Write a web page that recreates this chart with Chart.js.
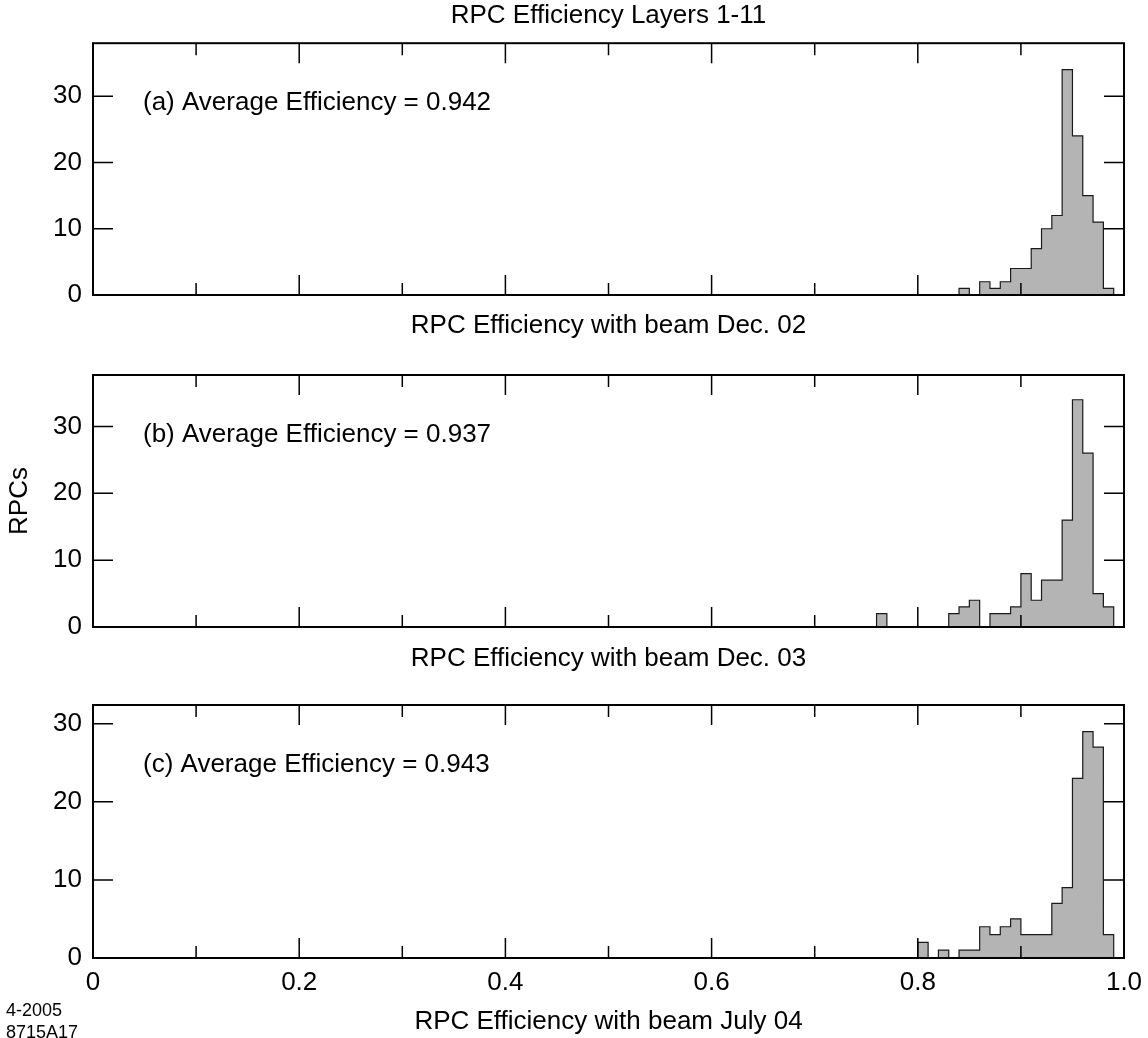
<!DOCTYPE html>
<html>
<head>
<meta charset="utf-8">
<script src="https://cdn.jsdelivr.net/npm/chart.js@4.4.0/dist/chart.umd.min.js"></script>
<style>
html,body{margin:0;padding:0;background:#fff;}
#wrap{position:relative;width:1148px;height:1038px;overflow:hidden;background:#fff;}
#wrap canvas{position:absolute;left:0;top:0;}
#note{position:absolute;left:6px;top:999px;font-family:"Liberation Sans",Arial,sans-serif;font-size:18px;line-height:22px;color:#000;}
</style>
</head>
<body>
<div id="wrap">
  <canvas id="cA" width="1148" height="1038"></canvas>
  <canvas id="cB" width="1148" height="1038"></canvas>
  <canvas id="cC" width="1148" height="1038"></canvas>
  <div id="note">4-2005<br>8715A17</div>
</div>
<script>
// ---- data ----
const binLow = [0.76,0.77,0.78,0.79,0.80,0.81,0.82,0.83,0.84,0.85,0.86,0.87,0.88,0.89,0.90,0.91,0.92,0.93,0.94,0.95,0.96,0.97,0.98];
const binWidth = 0.01;
const countsA = [0,0,0,0,0,0,0,0,1,0,2,1,2,4,4,7,10,12,34,24,15,11,1];
const countsB = [2,0,0,0,0,0,0,2,3,4,0,2,2,3,8,4,7,7,16,34,26,5,3];
const countsC = [0,0,0,0,2,0,1,0,1,1,4,3,4,5,3,3,3,7,9,23,29,27,3];
const xTickLabels = ['0','0.2','0.4','0.6','0.8','1.0'];
const panelLabels = ['(a) Average Efficiency = 0.942','(b) Average Efficiency = 0.937','(c) Average Efficiency = 0.943'];
const xTitles = ['RPC Efficiency with beam Dec. 02','RPC Efficiency with beam Dec. 03','RPC Efficiency with beam July 04'];
const mainTitle = 'RPC Efficiency Layers 1-11';
const yTitle = 'RPCs';

const FAMILY = '"Liberation Sans", Arial, Helvetica, sans-serif';
const FONT = {family: FAMILY, size: 26};

function histPoints(counts){
  const pts = [{x: binLow[0], y: 0}];
  counts.forEach((c, i) => pts.push({x: binLow[i], y: c}));
  pts.push({x: binLow[binLow.length - 1] + binWidth, y: 0});
  return pts;
}

const framePlugin = {
  id: 'frame',
  afterDatasetsDraw(chart, args, opts){
    const {ctx, chartArea: a, scales: {x, y}} = chart;
    ctx.save();
    ctx.strokeStyle = '#000';
    ctx.lineWidth = 1.5;
    ctx.beginPath();
    for (let i = 0; i <= 10; i++){
      const px = x.getPixelForValue(i / 10);
      const len = (i % 2 === 0) ? 20 : 12;
      ctx.moveTo(px, a.bottom); ctx.lineTo(px, a.bottom - len);
      ctx.moveTo(px, a.top); ctx.lineTo(px, a.top + len);
    }
    y.ticks.forEach(t => {
      const py = y.getPixelForValue(t.value);
      ctx.moveTo(a.left, py); ctx.lineTo(a.left + 20, py);
      ctx.moveTo(a.right, py); ctx.lineTo(a.right - 20, py);
    });
    ctx.stroke();
    ctx.lineWidth = 2;
    ctx.strokeRect(a.left, a.top, a.right - a.left, a.bottom - a.top);
    if (opts.label){
      ctx.fillStyle = '#000';
      ctx.font = '26px ' + FAMILY;
      ctx.textBaseline = 'middle';
      ctx.textAlign = 'left';
      ctx.fillText(opts.label, a.left + 50, a.top + 0.238 * (a.bottom - a.top));
    }
    ctx.restore();
  }
};

function makeChart(id, counts, yMax, cfg){
  return new Chart(document.getElementById(id), {
    type: 'line',
    data: {
      datasets: [{
        data: histPoints(counts),
        stepped: 'before',
        fill: 'origin',
        backgroundColor: '#b4b4b4',
        borderColor: '#1a1a1a',
        borderWidth: 1.2,
        pointRadius: 0,
        tension: 0
      }]
    },
    options: {
      responsive: false,
      animation: false,
      events: [],
      layout: {padding: {left: 0, right: 24, top: cfg.padTop, bottom: cfg.padBottom}},
      plugins: {
        legend: {display: false},
        tooltip: {enabled: false},
        title: {
          display: !!cfg.title,
          text: cfg.title || '',
          fullSize: false,
          color: '#000',
          font: {family: FAMILY, size: 26, weight: 'normal', lineHeight: 1.2},
          padding: {top: 0, bottom: 12}
        },
        frame: {label: cfg.label}
      },
      scales: {
        x: {
          type: 'linear', min: 0, max: 1,
          grid: {display: false, drawTicks: false},
          border: {display: false},
          ticks: {
            display: cfg.showX,
            stepSize: 0.2,
            padding: 9,
            maxRotation: 0,
            autoSkip: false,
            color: '#000',
            font: FONT,
            callback: (v) => xTickLabels[Math.round(v / 0.2)]
          },
          title: {display: true, text: cfg.xTitle, color: '#000', font: FONT, padding: {top: 0, bottom: cfg.xTitlePad}},
          afterFit: (s) => { s.height = cfg.xHeight; s.paddingLeft = 0; s.paddingRight = 0; }
        },
        y: {
          min: 0, max: yMax,
          grid: {display: false, drawTicks: false},
          border: {display: false},
          ticks: {stepSize: 10, includeBounds: false, padding: 11, color: '#000', font: FONT},
          title: {display: !!cfg.yTitle, text: cfg.yTitle || '', color: '#000', font: FONT, padding: {top: 4, bottom: 0}},
          afterFit: (s) => { s.width = 93; s.paddingTop = 0; s.paddingBottom = 0; }
        }
      }
    },
    plugins: [framePlugin]
  });
}

makeChart('cA', countsA, 38, {padTop: 0, padBottom: 697, xHeight: 46, xTitlePad: 0, showX: false, xTitle: xTitles[0], label: panelLabels[0], title: mainTitle});
makeChart('cB', countsB, 37.7, {padTop: 375, padBottom: 364, xHeight: 47, xTitlePad: 0, showX: false, xTitle: xTitles[1], label: panelLabels[1], yTitle: yTitle});
makeChart('cC', countsC, 32.4, {padTop: 705, padBottom: 0, xHeight: 80, xTitlePad: 1, showX: true, xTitle: xTitles[2], label: panelLabels[2]});
</script>
</body>
</html>
